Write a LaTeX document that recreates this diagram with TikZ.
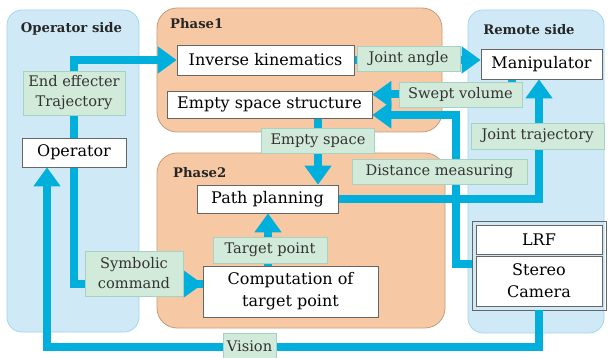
\documentclass[tikz,border=0pt]{standalone}
\usepackage{fontspec}
\setmainfont{DejaVu Serif}
\usetikzlibrary{arrows.meta,fit}

\definecolor{sidefill}{HTML}{CFEAF6}
\definecolor{sideedge}{HTML}{A3D6EC}
\definecolor{phasefill}{HTML}{F6C9A4}
\definecolor{phaseedge}{HTML}{C49C7C}
\definecolor{tagfill}{HTML}{D2EAD9}
\definecolor{tagedge}{HTML}{A4D3C3}
\definecolor{flowcol}{HTML}{00AFDC}
\definecolor{boxedge}{HTML}{666666}

\tikzset{
  sidepanel/.style={draw=sideedge, fill=sidefill, line width=0.8pt, rounded corners=15pt},
  phasepanel/.style={draw=phaseedge, fill=phasefill, line width=0.8pt, rounded corners=20pt},
  paneltitle/.style={font=\bfseries\fontsize{13.2}{15}\selectfont, text=black!85, inner sep=0pt},
  procbox/.style={draw=boxedge, fill=white, line width=0.7pt, inner sep=0pt,
    font=\fontsize{16}{22}\selectfont, align=center},
  tag/.style={draw=tagedge, fill=tagfill, line width=0.7pt, inner sep=0pt,
    font=\fontsize{14.6}{20}\selectfont, text=black!80, align=center},
  link/.style={draw=flowcol, line width=8pt},
  flow/.style={link, -{Triangle[width=26pt,length=19pt]}},
}

\begin{document}
\begin{tikzpicture}[x=1pt,y=-1pt]
\useasboundingbox (0,0) rectangle (608,358);

% background panels
\draw[sidepanel] (7,10) rectangle (139,332);
\draw[sidepanel] (468,10) rectangle (604,333);
\draw[phasepanel] (157,8) rectangle (442,132);
\draw[phasepanel] (157,153) rectangle (445,328);

\node[paneltitle] (optitle) at (71.5,29) {Operator side};
\node[paneltitle] (remtitle) at (529,30) {Remote side};
\node[paneltitle, anchor=west] (ph1title) at (170,24) {Phase1};
\node[paneltitle, anchor=west] (ph2title) at (173,173) {Phase2};

% processing blocks
\node[procbox, minimum width=177pt, minimum height=30pt] (ik) at (265.5,60) {Inverse kinematics};
\node[procbox, minimum width=205pt, minimum height=27pt] (ess) at (269.5,104.5) {Empty space structure};
\node[procbox, minimum width=121pt, minimum height=30pt] (manip) at (541.5,64) {Manipulator};
\node[procbox, minimum width=104pt, minimum height=29pt] (oper) at (74,152.5) {Operator};
\node[procbox, minimum width=141pt, minimum height=28pt] (pp) at (267.5,199) {Path planning};
\node[procbox, minimum width=175pt, minimum height=51pt] (comp) at (290.5,291.5) {Computation of\\target point};
\node[procbox, minimum width=126pt, minimum height=29pt] (lrf) at (539,239.5) {LRF};
\node[procbox, minimum width=126pt, minimum height=50pt] (stereo) at (539,281) {Stereo\\Camera};

% corner points of the connectors
\coordinate (svc) at (512,94.5);
\coordinate (dmc) at (456,115);
\coordinate (dmlow) at (456,264);
\coordinate (jtc) at (539,199);
\coordinate (vcorner) at (47,347);
\coordinate (scin) at (74,284);

% outer frame of the sensor unit
\node[draw=boxedge, line width=0.7pt, inner sep=3.5pt, fit=(lrf)(stereo)] (sensor) {};

% connectors
\draw[flow] (oper.north) |- (ik.west);
\draw[link] (oper.south) -- (scin) -- (scin -| comp.west);
\draw[flow] (scin -| 180,0) -- (scin -| comp.west);
\draw[flow] (sensor.south) |- (vcorner) -- (oper.south -| vcorner);
\draw[flow] (ik.east) -- (manip.west |- ik.east);
\draw[flow] (manip.south -| svc) -- (svc) -- (ess.east |- svc);
\draw[flow] (sensor.west |- dmlow) -- (dmlow) -- (dmc) -- (ess.east |- dmc);
\draw[flow] (pp.east) -- (jtc) -- (manip.south -| jtc);
\draw[flow] (ess.south -| 318,0) -- (pp.north -| 318,0);
\draw[flow] (comp.north -| 268,0) -- (pp.south -| 268,0);

% blocks drawn again above the connector ends
\node[procbox, minimum width=177pt, minimum height=30pt] at (ik) {Inverse kinematics};
\node[procbox, minimum width=205pt, minimum height=27pt] at (ess) {Empty space structure};
\node[procbox, minimum width=121pt, minimum height=30pt] at (manip) {Manipulator};
\node[procbox, minimum width=104pt, minimum height=29pt] at (oper) {Operator};
\node[procbox, minimum width=141pt, minimum height=28pt] at (pp) {Path planning};
\node[procbox, minimum width=175pt, minimum height=51pt] at (comp) {Computation of\\target point};

% connector labels
\node[tag, minimum width=102pt, minimum height=44pt] (eet) at (74,93) {End effecter\\Trajectory};
\node[tag, minimum width=103pt, minimum height=25pt] (ja) at (408.5,58.5) {Joint angle};
\node[tag, minimum width=123pt, minimum height=25pt] (sv) at (460.5,94.5) {Swept volume};
\node[tag, minimum width=133pt, minimum height=26pt] (jt) at (537.5,136) {Joint trajectory};
\node[tag, minimum width=113pt, minimum height=25pt] (es) at (318,140.5) {Empty space};
\node[tag, minimum width=175pt, minimum height=25pt] (dm) at (439.5,171.5) {Distance measuring};
\node[tag, minimum width=114pt, minimum height=26pt] (tp) at (270,250) {Target point};
\node[tag, minimum width=98pt, minimum height=45pt] (sc) at (134,273.5) {Symbolic\\command};
\node[tag, minimum width=53pt, minimum height=25pt] (vis) at (249.5,346) {Vision};
\end{tikzpicture}
\end{document}
